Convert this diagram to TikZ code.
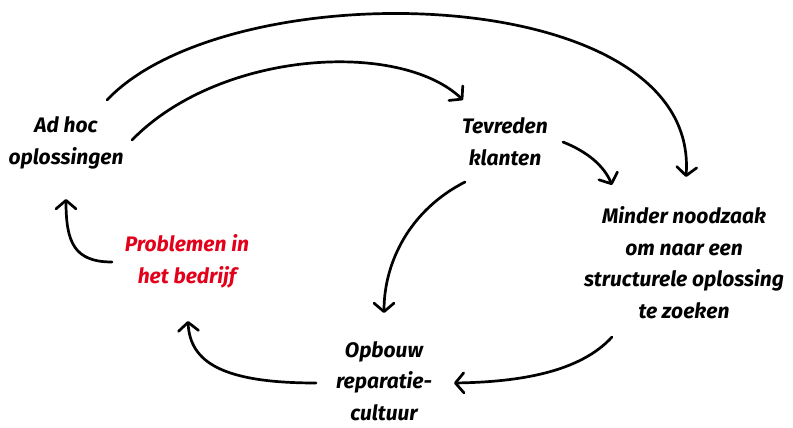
\documentclass[tikz,border=0pt]{standalone}
\usepackage{fontspec}
\setmainfont{Fira Sans}
\usetikzlibrary{arrows.meta}
\definecolor{alertred}{RGB}{226,0,26}
\tikzset{
  label/.style={align=center, anchor=base, inner sep=0pt,
    font=\fontsize{21}{31.5}\selectfont\bfseries\itshape},
  flow/.style={line width=2.7pt, line cap=round, line join=round,
    -{Straight Barb[length=8.5pt,width=20pt,line cap=round,line join=round]}}
}
\begin{document}
\begin{tikzpicture}[x=1pt,y=-1pt]
\useasboundingbox (0,0) rectangle (793,428);

% text blocks of the loop (anchored at the baseline of their last line)
\node[label] (adhoc) at (66,164) {Ad hoc\\oplossingen};
\node[label] (tevreden) at (505,165) {Tevreden\\klanten};
\node[label, text=alertred] (problemen) at (187,283) {Problemen in\\het bedrijf};
\node[label] (minder) at (684,318) {Minder noodzaak\\om naar een\\structurele oplossing\\te zoeken};
\node[label] (opbouw) at (384,420) {Opbouw\\reparatie-\\cultuur};

% arrow end points around the blocks
\coordinate (adhoc-outer) at (107,100);
\coordinate (adhoc-inner) at (132,140);
\coordinate (adhoc-in) at (66,199);
\coordinate (tevreden-in) at (463,100);
\coordinate (tevreden-right) at (563,142);
\coordinate (tevreden-down) at (465,182);
\coordinate (minder-top) at (686,177);
\coordinate (minder-left) at (612,185);
\coordinate (minder-out) at (612,337);
\coordinate (opbouw-top) at (384,313);
\coordinate (opbouw-in) at (454,383);
\coordinate (opbouw-out) at (316,383);
\coordinate (problemen-in) at (188,321);
\coordinate (problemen-out) at (112,262);

% connectors
\draw[flow] (adhoc-outer) .. controls (230,-30) and (700,-20) .. (minder-top);
\draw[flow] (adhoc-inner) .. controls (220,50) and (400,40) .. (tevreden-in);
\draw[flow] (tevreden-right) .. controls (588,152) and (604,166) .. (minder-left);
\draw[flow] (tevreden-down) .. controls (410,210) and (384,262) .. (opbouw-top);
\draw[flow] (minder-out) .. controls (580,372) and (520,382) .. (opbouw-in);
\draw[flow] (opbouw-out) .. controls (222,383) and (190,362) .. (problemen-in);
\draw[flow] (problemen-out) .. controls (74,262) and (66,242) .. (adhoc-in);
\end{tikzpicture}
\end{document}
